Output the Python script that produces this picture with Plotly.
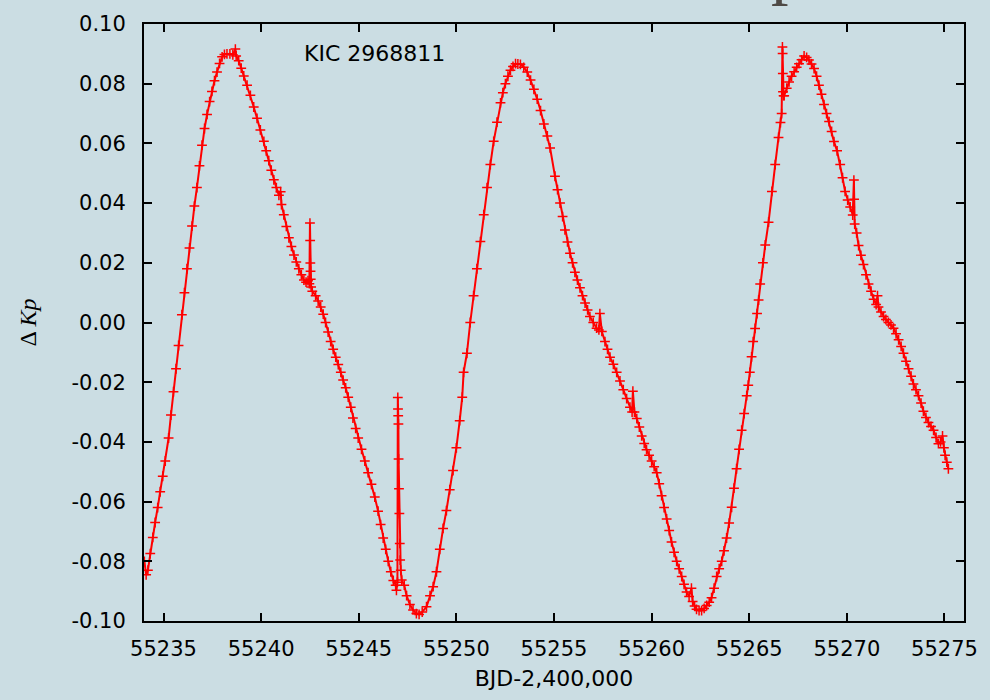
import plotly.graph_objects as go

# ---------------- data ----------------
bjd = [
    55234.02, 55234.11, 55234.20, 55234.32, 55234.45, 55234.57, 55234.70, 55234.83, 55234.96, 55235.09,
    55235.26, 55235.38, 55235.51, 55235.64, 55235.77, 55235.94, 55236.07, 55236.20, 55236.33, 55236.46,
    55236.58, 55236.71, 55236.84, 55236.97, 55237.10, 55237.23, 55237.36, 55237.48, 55237.61, 55237.74,
    55237.87, 55238.00, 55238.12, 55238.25, 55238.40, 55238.55, 55238.68, 55238.72, 55238.85, 55238.98,
    55239.11, 55239.28, 55239.45, 55239.62, 55239.79, 55239.96, 55240.14, 55240.26, 55240.39, 55240.52,
    55240.65, 55240.78, 55240.91, 55241.00, 55241.04, 55241.16, 55241.29, 55241.42, 55241.55, 55241.68,
    55241.80, 55241.93, 55242.06, 55242.19, 55242.30, 55242.40, 55242.47, 55242.50, 55242.51, 55242.52,
    55242.53, 55242.54, 55242.56, 55242.62, 55242.79, 55242.92, 55243.05, 55243.18, 55243.30, 55243.43,
    55243.56, 55243.69, 55243.82, 55243.95, 55244.08, 55244.20, 55244.33, 55244.46, 55244.59, 55244.70,
    55244.84, 55244.97, 55245.14, 55245.31, 55245.48, 55245.65, 55245.82, 55245.99, 55246.12, 55246.25,
    55246.38, 55246.51, 55246.64, 55246.77, 55246.89, 55246.93, 55246.98, 55247.00, 55247.01, 55247.02,
    55247.03, 55247.04, 55247.06, 55247.08, 55247.10, 55247.12, 55247.15, 55247.20, 55247.33, 55247.45,
    55247.62, 55247.78, 55247.95, 55248.09, 55248.25, 55248.47, 55248.65, 55248.81, 55248.98, 55249.15,
    55249.32, 55249.49, 55249.66, 55249.83, 55250.00, 55250.17, 55250.30, 55250.37, 55250.54, 55250.71,
    55250.88, 55251.05, 55251.23, 55251.40, 55251.57, 55251.74, 55251.91, 55252.08, 55252.26, 55252.38,
    55252.51, 55252.64, 55252.77, 55252.90, 55253.03, 55253.15, 55253.28, 55253.45, 55253.63, 55253.80,
    55253.97, 55254.14, 55254.31, 55254.48, 55254.66, 55254.80, 55255.05, 55255.18, 55255.31, 55255.44,
    55255.56, 55255.69, 55255.82, 55255.95, 55256.07, 55256.20, 55256.33, 55256.46, 55256.59, 55256.72,
    55256.84, 55257.01, 55257.18, 55257.30, 55257.35, 55257.45, 55257.61, 55257.74, 55257.87, 55258.04,
    55258.21, 55258.38, 55258.55, 55258.72, 55258.89, 55259.00, 55259.04, 55259.12, 55259.24, 55259.37,
    55259.49, 55259.62, 55259.74, 55259.87, 55260.00, 55260.13, 55260.26, 55260.39, 55260.51, 55260.64,
    55260.77, 55260.90, 55261.02, 55261.15, 55261.28, 55261.41, 55261.54, 55261.66, 55261.79, 55261.92,
    55262.04, 55262.10, 55262.20, 55262.30, 55262.43, 55262.56, 55262.69, 55262.82, 55262.95, 55263.07,
    55263.20, 55263.33, 55263.46, 55263.59, 55263.71, 55263.84, 55263.97, 55264.10, 55264.22, 55264.35,
    55264.48, 55264.61, 55264.74, 55264.87, 55264.95, 55265.03, 55265.12, 55265.20, 55265.30, 55265.40,
    55265.48, 55265.56, 55265.70, 55265.82, 55265.99, 55266.16, 55266.33, 55266.50, 55266.60, 55266.66,
    55266.70, 55266.71, 55266.72, 55266.73, 55266.76, 55266.79, 55266.92, 55267.04, 55267.17, 55267.30,
    55267.43, 55267.55, 55267.68, 55267.81, 55267.94, 55268.06, 55268.19, 55268.32, 55268.45, 55268.57,
    55268.70, 55268.83, 55268.96, 55269.09, 55269.22, 55269.34, 55269.50, 55269.66, 55269.78, 55269.91,
    55270.04, 55270.17, 55270.30, 55270.36, 55270.37, 55270.40, 55270.50, 55270.60, 55270.72, 55270.85,
    55270.98, 55271.11, 55271.24, 55271.37, 55271.50, 55271.57, 55271.62, 55271.75, 55271.88, 55272.00,
    55272.13, 55272.26, 55272.39, 55272.52, 55272.65, 55272.78, 55272.90, 55273.03, 55273.16, 55273.29,
    55273.41, 55273.54, 55273.67, 55273.80, 55273.92, 55274.05, 55274.18, 55274.31, 55274.44, 55274.57,
    55274.69, 55274.80, 55274.90, 55274.97, 55275.03, 55275.12, 55275.20,
]

delta_kp = [
    -0.0800, -0.0845, -0.0830, -0.0774, -0.0720, -0.0670, -0.0620, -0.0567, -0.0515, -0.0464,
    -0.0387, -0.0310, -0.0232, -0.0155, -0.0077, 0.0026, 0.0100, 0.0180, 0.0250, 0.0323,
    0.0390, 0.0452, 0.0525, 0.0594, 0.0650, 0.0697, 0.0740, 0.0774, 0.0810, 0.0839,
    0.0868, 0.0890, 0.0898, 0.0900, 0.0900, 0.0897, 0.0916, 0.0893, 0.0877, 0.0852,
    0.0826, 0.0795, 0.0761, 0.0722, 0.0684, 0.0645, 0.0607, 0.0575, 0.0542, 0.0510,
    0.0478, 0.0452, 0.0426, 0.0438, 0.0395, 0.0361, 0.0322, 0.0284, 0.0255, 0.0226,
    0.0203, 0.0180, 0.0160, 0.0142, 0.0135, 0.0140, 0.0130, 0.0333, 0.0275, 0.0199,
    0.0172, 0.0145, 0.0119, 0.0105, 0.0090, 0.0072, 0.0052, 0.0028, 0.0000, -0.0032,
    -0.0064, -0.0090, -0.0116, -0.0141, -0.0167, -0.0193, -0.0219, -0.0250, -0.0284, -0.0320,
    -0.0355, -0.0387, -0.0425, -0.0464, -0.0503, -0.0542, -0.0585, -0.0632, -0.0677, -0.0722,
    -0.0760, -0.0800, -0.0835, -0.0864, -0.0880, -0.0897, -0.0870, -0.0251, -0.0290, -0.0312,
    -0.0340, -0.0457, -0.0557, -0.0640, -0.0740, -0.0796, -0.0830, -0.0863, -0.0880, -0.0915,
    -0.0945, -0.0963, -0.0975, -0.0978, -0.0970, -0.0952, -0.0915, -0.0885, -0.0835, -0.0760,
    -0.0690, -0.0630, -0.0560, -0.0496, -0.0420, -0.0329, -0.0250, -0.0167, -0.0103, 0.0000,
    0.0090, 0.0180, 0.0271, 0.0361, 0.0452, 0.0529, 0.0607, 0.0671, 0.0736, 0.0770,
    0.0800, 0.0825, 0.0845, 0.0858, 0.0867, 0.0866, 0.0865, 0.0855, 0.0839, 0.0812,
    0.0781, 0.0748, 0.0710, 0.0665, 0.0625, 0.0585, 0.0490, 0.0445, 0.0400, 0.0355,
    0.0310, 0.0270, 0.0232, 0.0200, 0.0168, 0.0142, 0.0116, 0.0090, 0.0065, 0.0042,
    0.0020, 0.0000, -0.0019, -0.0025, 0.0030, -0.0030, -0.0064, -0.0090, -0.0116, -0.0140,
    -0.0167, -0.0196, -0.0225, -0.0255, -0.0284, -0.0300, -0.0230, -0.0300, -0.0322, -0.0350,
    -0.0380, -0.0405, -0.0426, -0.0445, -0.0464, -0.0483, -0.0503, -0.0540, -0.0580, -0.0620,
    -0.0658, -0.0697, -0.0735, -0.0770, -0.0800, -0.0825, -0.0851, -0.0877, -0.0903, -0.0918,
    -0.0890, -0.0935, -0.0950, -0.0961, -0.0965, -0.0965, -0.0958, -0.0948, -0.0937, -0.0922,
    -0.0890, -0.0851, -0.0825, -0.0800, -0.0765, -0.0722, -0.0672, -0.0619, -0.0555, -0.0490,
    -0.0425, -0.0361, -0.0305, -0.0245, -0.0210, -0.0167, -0.0115, -0.0064, -0.0020, 0.0030,
    0.0075, 0.0129, 0.0200, 0.0260, 0.0336, 0.0439, 0.0529, 0.0620, 0.0670, 0.0700,
    0.0923, 0.0901, 0.0834, 0.0773, 0.0760, 0.0760, 0.0785, 0.0806, 0.0825, 0.0840,
    0.0855, 0.0867, 0.0880, 0.0893, 0.0888, 0.0879, 0.0866, 0.0851, 0.0825, 0.0795,
    0.0765, 0.0730, 0.0700, 0.0673, 0.0640, 0.0606, 0.0575, 0.0529, 0.0485, 0.0439,
    0.0410, 0.0387, 0.0360, 0.0477, 0.0413, 0.0330, 0.0300, 0.0258, 0.0225, 0.0194,
    0.0160, 0.0129, 0.0105, 0.0078, 0.0060, 0.0090, 0.0052, 0.0035, 0.0020, 0.0010,
    0.0000, -0.0008, -0.0019, -0.0038, -0.0058, -0.0080, -0.0103, -0.0130, -0.0155, -0.0180,
    -0.0206, -0.0225, -0.0245, -0.0270, -0.0297, -0.0318, -0.0335, -0.0348, -0.0361, -0.0385,
    -0.0406, -0.0400, -0.0380, -0.0420, -0.0445, -0.0468, -0.0490,
]

x_tick_vals = [55235, 55240, 55245, 55250, 55255, 55260, 55265, 55270, 55275]
x_tick_text = ["55235", "55240", "55245", "55250", "55255", "55260", "55265", "55270", "55275"]
y_tick_vals = [-0.10, -0.08, -0.06, -0.04, -0.02, 0.00, 0.02, 0.04, 0.06, 0.08, 0.10]
y_tick_text = ["-0.10", "-0.08", "-0.06", "-0.04", "-0.02", "0.00", "0.02", "0.04", "0.06", "0.08", "0.10"]

star_label = "KIC 2968811"
x_title = "BJD-2,400,000"
y_title = "Δ <i>Kp</i>"

BG = "#cbdde3"
SANS = "DejaVu Sans"

fig = go.Figure()
fig.add_trace(go.Scatter(
    x=bjd, y=delta_kp, mode="lines+markers",
    line=dict(color="red", width=2),
    marker=dict(symbol="cross-thin", size=7, color="red", line=dict(color="red", width=1.5)),
    showlegend=False, hoverinfo="skip",
))

axis_common = dict(
    showline=True, linewidth=2, linecolor="black", mirror="ticks",
    ticks="inside", ticklen=8, tickwidth=1.5, tickcolor="black",
    showgrid=False, zeroline=False,
    tickfont=dict(family=SANS, size=21, color="black"),
)

fig.update_xaxes(
    range=[55234, 55276], tickmode="array", tickvals=x_tick_vals, ticktext=x_tick_text,
    ticklabelstandoff=8,
    title=dict(text=x_title, font=dict(family=SANS, size=22, color="black"), standoff=10),
    **axis_common,
)
fig.update_yaxes(
    range=[-0.10, 0.10], tickmode="array", tickvals=y_tick_vals, ticktext=y_tick_text,
    ticklabelstandoff=12,
    title=dict(text=y_title, font=dict(family="Liberation Serif", size=24, color="black"), standoff=28),
    **axis_common,
)

fig.add_annotation(
    text=star_label, xref="paper", yref="paper", x=(302 - 144) / 820, y=(621 - 51.5) / 599,
    xanchor="left", yanchor="middle", showarrow=False,
    font=dict(family=SANS, size=22, color="black"),
)
# fragment of the slide title cut by the top edge
fig.add_annotation(
    text="p", xref="paper", yref="paper", x=(770 - 144) / 820, y=(621 - 5) / 599,
    xanchor="left", yanchor="bottom", showarrow=False, borderpad=0,
    font=dict(family="Liberation Serif", size=70, color="#4f4a46"),
)

fig.update_layout(
    width=990, height=700,
    margin=dict(l=144, r=26, t=22, b=79),
    paper_bgcolor=BG, plot_bgcolor=BG,
)

fig.write_html("out.html")
